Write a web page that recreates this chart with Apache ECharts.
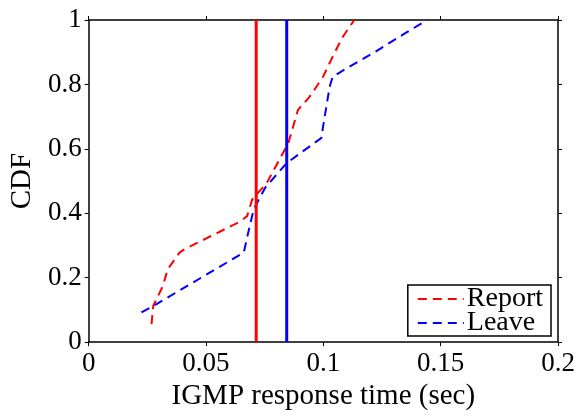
<!DOCTYPE html>
<html><head><meta charset="utf-8">
<script src="https://cdn.jsdelivr.net/npm/echarts@6/dist/echarts.min.js"></script>
<style>html,body{margin:0;padding:0;background:#fff}#c{width:578px;height:416px}</style>
</head><body><div id="c"></div>
<script>
const reportX = [0.0268,0.0275,0.0316,0.0337,0.0387,0.0408,0.0647,0.0675,0.0697,0.0759,0.0851,0.0892,0.0942,0.0999,0.1047,0.1083,0.1132];
const reportY = [0.056,0.112,0.174,0.226,0.278,0.288,0.375,0.391,0.443,0.494,0.618,0.721,0.762,0.824,0.897,0.948,1.0];
const leaveX = [0.0225,0.0289,0.0661,0.0675,0.0703,0.0752,0.0844,0.0992,0.0999,0.1027,0.1040,0.1111,0.1223,0.1349,0.1442];
const leaveY = [0.092,0.118,0.278,0.324,0.412,0.479,0.556,0.634,0.670,0.793,0.824,0.855,0.902,0.959,1.0];
const reportMean = 0.0714;
const leaveMean = 0.0844;
const xTicks = [0, 0.05, 0.1, 0.15, 0.2];
const yTicks = [0, 0.2, 0.4, 0.6, 0.8, 1];

const FONT = "'Liberation Serif', 'Times New Roman', serif";
const zip = (a,b) => a.map((v,i)=>[v,b[i]]);
const chart = echarts.init(document.getElementById('c'), null, {renderer:'canvas'});
const axisLine = {show:true, onZero:false, lineStyle:{color:'#000', width:1.5}};
const tick = {show:true, inside:false, length:4, lineStyle:{color:'#000', width:1}};
chart.setOption({
  animation:false,
  backgroundColor:'#fff',
  grid:{left:83, right:20, top:20, bottom:73, containLabel:false},
  legend:{
    data:[{name:'Report'},{name:'Leave'}],
    orient:'vertical', right:27, bottom:80,
    backgroundColor:'#fff', borderColor:'#000', borderWidth:1.5, borderRadius:0,
    padding:[0,8,-1,9], itemGap:-4, itemWidth:46, itemHeight:12,
    itemStyle:{opacity:0},
    textStyle:{fontFamily:FONT, fontSize:28, color:'#000', padding:[0,0,0,-2]}
  },
  xAxis:[{
    type:'value', min:0, max:0.2, interval:0.05,
    axisLine:axisLine, axisTick:tick,
    axisLabel:{fontFamily:FONT, fontSize:27, color:'#000', margin:8,
      formatter:v=>{const t=xTicks.find(x=>Math.abs(x-v)<1e-9);return t===undefined?'':String(t);}},
    splitLine:{show:false},
    name:'IGMP response time (sec)', nameLocation:'middle', nameGap:36,
    nameTextStyle:{fontFamily:FONT, fontSize:29, color:'#000'}
  },{
    type:'value', min:0, max:0.2, interval:0.05, position:'top',
    axisLine:axisLine, axisTick:tick,
    axisLabel:{show:false}, splitLine:{show:false}
  }],
  yAxis:[{
    type:'value', min:0, max:1, interval:0.2,
    axisLine:axisLine, axisTick:tick,
    axisLabel:{fontFamily:FONT, fontSize:27, color:'#000', margin:7,
      formatter:v=>{const t=yTicks.find(x=>Math.abs(x-v)<1e-9);return t===undefined?'':String(t);}},
    splitLine:{show:false},
    name:'CDF', nameLocation:'middle', nameGap:48, nameRotate:90,
    nameTextStyle:{fontFamily:FONT, fontSize:29, color:'#000'}
  },{
    type:'value', min:0, max:1, interval:0.2, position:'right',
    axisLine:axisLine, axisTick:tick,
    axisLabel:{show:false}, splitLine:{show:false}
  }],
  series:[
    {name:'Report', type:'line', data:zip(reportX,reportY), showSymbol:false, symbol:'none',
      lineStyle:{color:'#ff0000', width:2, type:[9,6]}, itemStyle:{color:'#ff0000'}},
    {name:'Leave', type:'line', data:zip(leaveX,leaveY), showSymbol:false, symbol:'none',
      lineStyle:{color:'#0000ff', width:2, type:[9,6]}, itemStyle:{color:'#0000ff'}},
    {name:'ReportMean', type:'line', data:[[reportMean,0],[reportMean,1]], showSymbol:false, symbol:'none',
      lineStyle:{color:'#ff0000', width:3, type:'solid'}},
    {name:'LeaveMean', type:'line', data:[[leaveMean,0],[leaveMean,1]], showSymbol:false, symbol:'none',
      lineStyle:{color:'#0000ff', width:3, type:'solid'}}
  ]
});
</script></body></html>
